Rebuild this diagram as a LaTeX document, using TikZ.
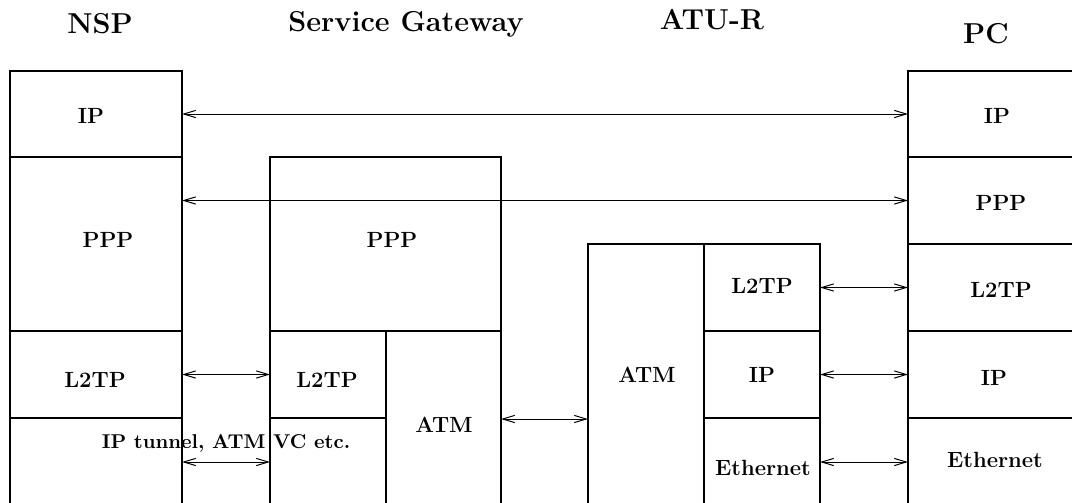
\documentclass[tikz,border=0pt]{standalone}
\usetikzlibrary{fit,arrows.meta}
\begin{document}
\begin{tikzpicture}[x=0.5pt,y=-0.5pt,
  cell/.style={draw, line width=0.8pt, inner sep=0pt, outer sep=0pt},
  conn/.style={line width=0.5pt, {Straight Barb[length=6pt,width=3.6pt]}-{Straight Barb[length=6pt,width=3.6pt]}},
  lab/.style={anchor=base, inner sep=0pt, font=\fontsize{11}{13}\selectfont\bfseries},
  small/.style={anchor=base, inner sep=0pt, font=\normalsize\bfseries},
  head/.style={anchor=base, inner sep=0pt, font=\Large\bfseries}]
\useasboundingbox (0,0) rectangle (1072,503);
% headers
\node[head] (hnsp) at (100,33) {NSP};
\node[head] (hsg) at (406,32) {Service Gateway};
\node[head] (hatu) at (712,29) {ATU-R};
\node[head] (hpc) at (986,43) {PC};
% NSP
\node[cell, fit={(10,71)(182,157)}] (nspip) {};
\node[cell, fit={(10,157)(182,331)}] (nspppp) {};
\node[cell, fit={(10,331)(182,418)}] (nspl2tp) {};
\node[cell, fit={(10,418)(182,508)}] (nspbot) {};
% Service gateway
\node[cell, fit={(270,157)(501,331)}] (sgppp) {};
\node[cell, fit={(270,331)(386,418)}] (sgl2tp) {};
\node[cell, fit={(270,418)(386,508)}] (sgbot) {};
\node[cell, fit={(386,331)(501,508)}] (sgatm) {};
% ATU-R
\node[cell, fit={(588,244)(704,508)}] (atuatm) {};
\node[cell, fit={(704,244)(820,331)}] (atul2tp) {};
\node[cell, fit={(704,331)(820,418)}] (atuip) {};
\node[cell, fit={(704,418)(820,508)}] (atueth) {};
% PC
\node[cell, fit={(908,71)(1082,157)}] (pcip) {};
\node[cell, fit={(908,157)(1082,244)}] (pcppp) {};
\node[cell, fit={(908,244)(1082,331)}] (pcl2tp) {};
\node[cell, fit={(908,331)(1082,418)}] (pcip2) {};
\node[cell, fit={(908,418)(1082,508)}] (pceth) {};
% labels
\node[lab] (lnspip) at (91,123) {IP};
\node[lab] (lnspppp) at (108,247) {PPP};
\node[lab] (lnspl2tp) at (95,387) {L2TP};
\node[small] (ltun) at (226,448) {IP tunnel, ATM VC etc.};
\node[lab] (lsgppp) at (392,247) {PPP};
\node[lab] (lsgl2tp) at (327,387) {L2TP};
\node[lab] (lsgatm) at (444,432) {ATM};
\node[lab] (latuatm) at (647,382) {ATM};
\node[lab] (latul2tp) at (762,293) {L2TP};
\node[lab] (latuip) at (762,382) {IP};
\node[lab] (latueth) at (763,475) {Ethernet};
\node[lab] (lpcip) at (997,123) {IP};
\node[lab] (lpcppp) at (1001,210) {PPP};
\node[lab] (lpcl2tp) at (1001,297) {L2TP};
\node[lab] (lpcip2) at (994,385) {IP};
\node[lab] (lpceth) at (995,467) {Ethernet};
% connectors
\draw[conn] (nspip.east) -- (pcip.west);
\draw[conn] (nspppp.east |- pcppp.west) -- (pcppp.west);
\draw[conn] (nspl2tp.east) -- (sgl2tp.west);
\draw[conn] (nspbot.east |- 0,462) -- (sgbot.west |- 0,462);
\draw[conn] (sgatm.east |- 0,419) -- (atuatm.west |- 0,419);
\draw[conn] (atul2tp.east) -- (pcl2tp.west);
\draw[conn] (atuip.east) -- (pcip2.west);
\draw[conn] (atueth.east |- 0,462) -- (pceth.west |- 0,462);
\end{tikzpicture}
\end{document}
